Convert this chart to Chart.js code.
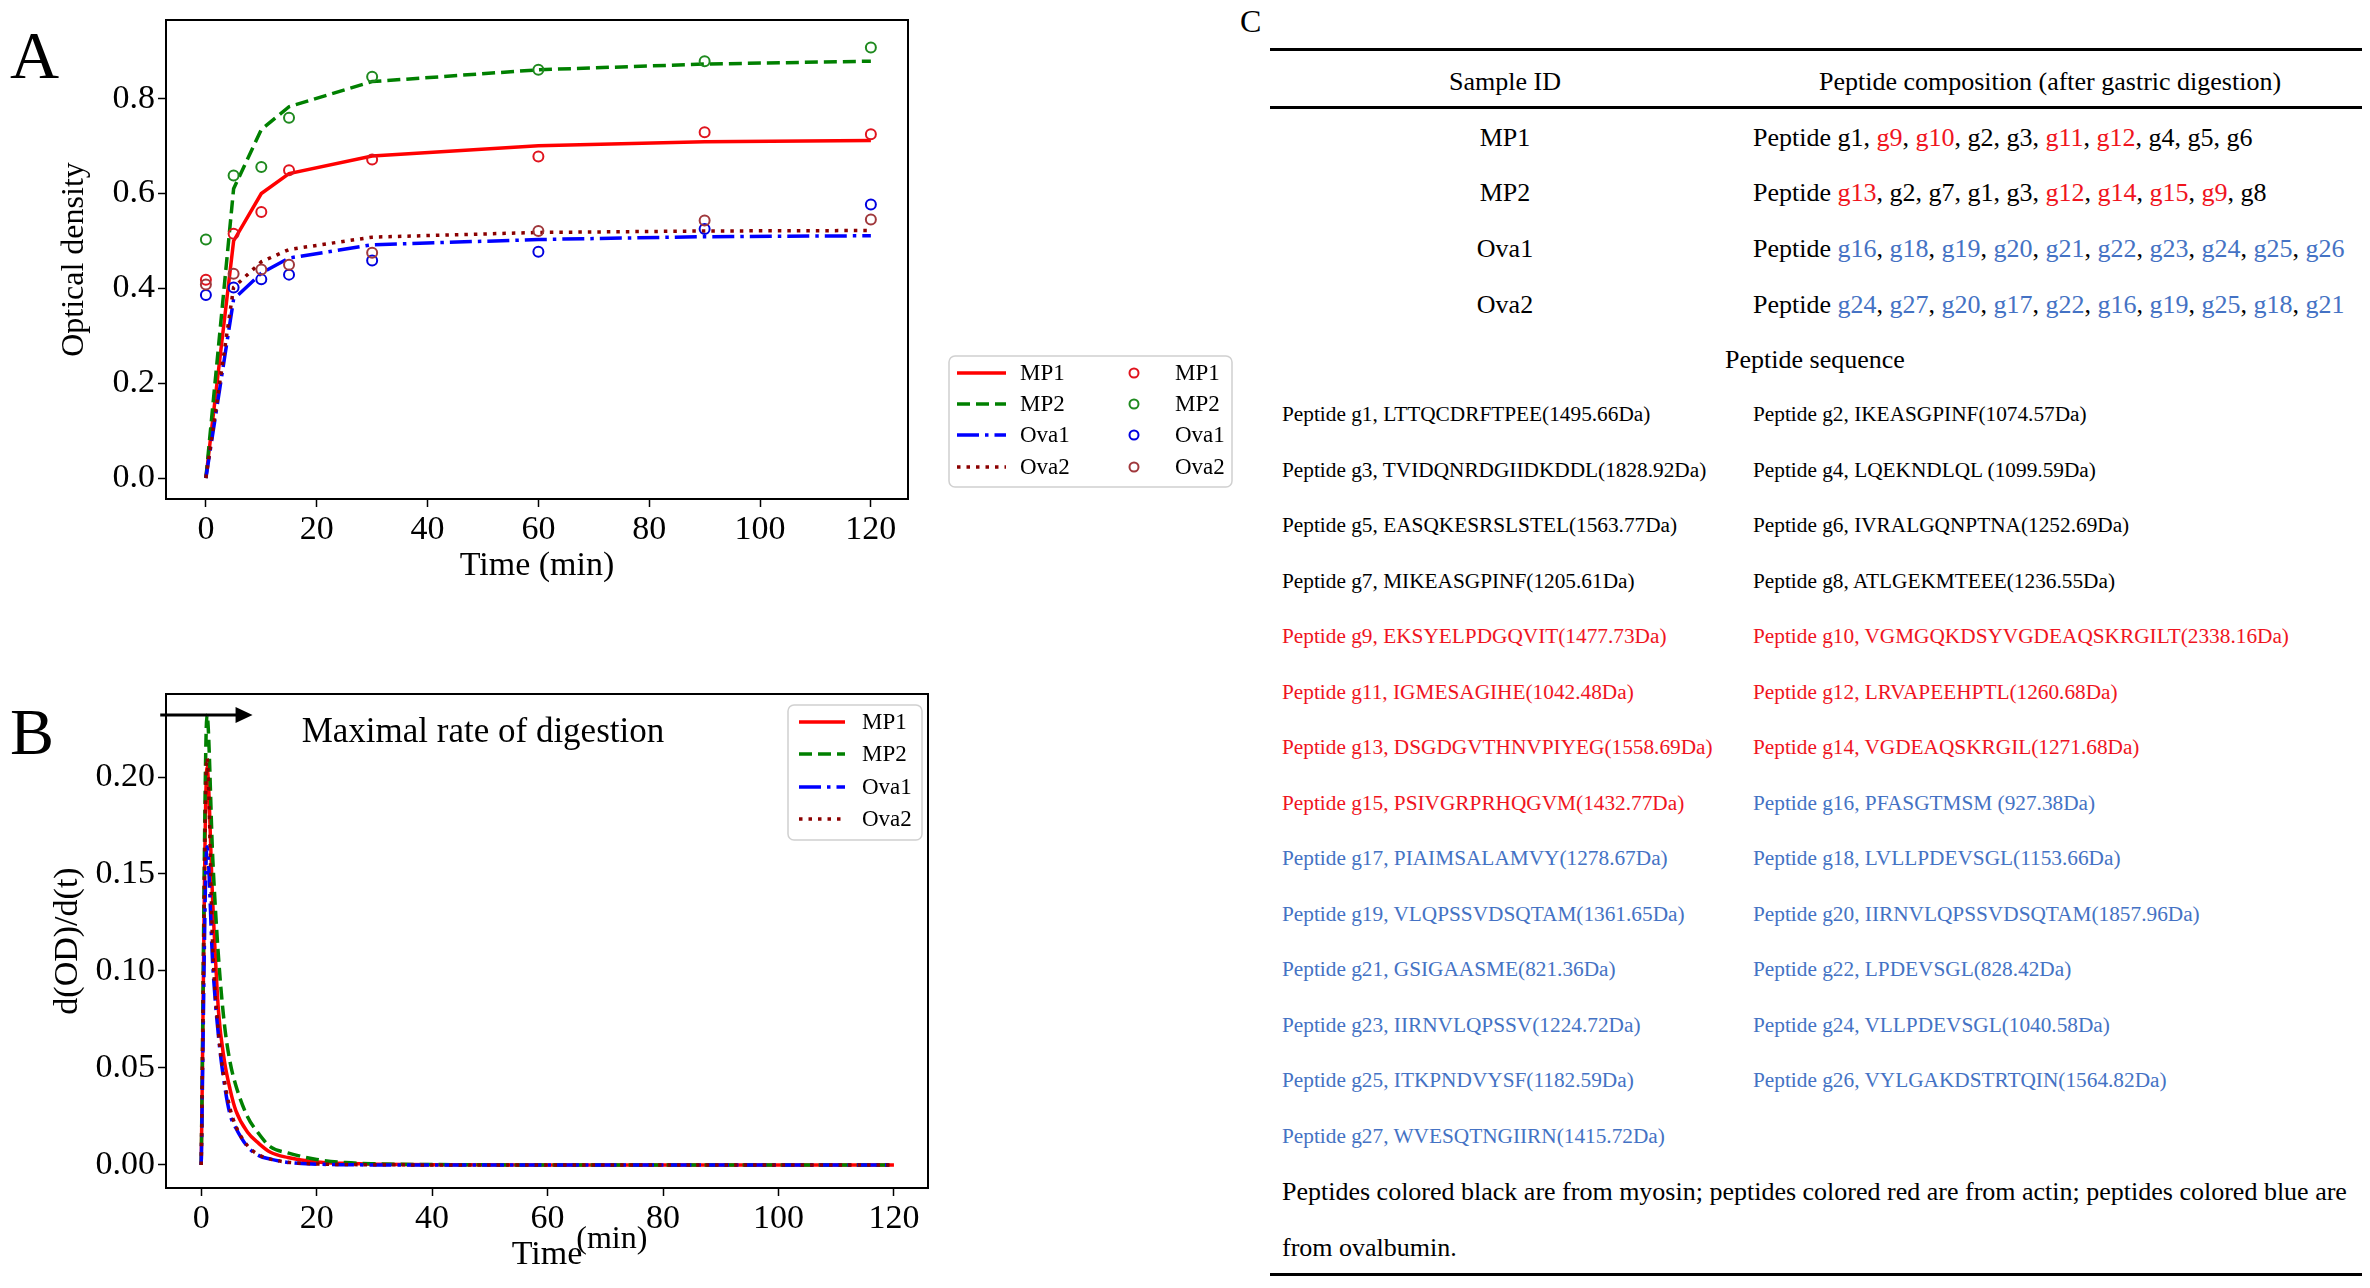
<!DOCTYPE html>
<html>
<head>
<meta charset="utf-8">
<script src="https://cdn.jsdelivr.net/npm/chart.js@4.4.1/dist/chart.umd.min.js"></script>
<style>
  html, body { margin: 0; padding: 0; background: #fff; }
  body { width: 2370px; height: 1288px; position: relative; overflow: hidden; font-family: "Liberation Serif", serif; color: #000; }
  canvas { position: absolute; left: 0; }
  #chartA { top: 0; }
  #chartB { top: 650px; }
  .t { position: absolute; white-space: nowrap; }
  .rule { position: absolute; left: 1270px; width: 1092px; height: 3px; background: #000; }
</style>
</head>
<body>
<canvas id="chartA" width="1240" height="600"></canvas>
<canvas id="chartB" width="1240" height="638"></canvas>
<div id="table"></div>

<script>
"use strict";

// ---- panel A: optical density vs time ----
var TIME_A = [0, 5, 10, 15, 30, 60, 90, 120];
var FIT_MP1 = [0, 0.500, 0.600, 0.642, 0.679, 0.701, 0.709, 0.712];
var FIT_MP2 = [0, 0.610, 0.735, 0.783, 0.836, 0.861, 0.873, 0.879];
var FIT_OVA1 = [0, 0.377, 0.432, 0.464, 0.492, 0.503, 0.509, 0.511];
var FIT_OVA2 = [0, 0.402, 0.456, 0.482, 0.508, 0.518, 0.521, 0.522];
var OBS_MP1 = [0.418, 0.515, 0.561, 0.649, 0.672, 0.678, 0.729, 0.725];
var OBS_MP2 = [0.503, 0.638, 0.656, 0.760, 0.846, 0.861, 0.879, 0.908];
var OBS_OVA1 = [0.386, 0.402, 0.419, 0.429, 0.459, 0.477, 0.525, 0.577];
var OBS_OVA2 = [0.408, 0.431, 0.440, 0.450, 0.475, 0.521, 0.543, 0.545];
var TICKS_X = [0, 20, 40, 60, 80, 100, 120];
var TICKS_Y_A = [0, 0.2, 0.4, 0.6, 0.8];

// ---- panel B: rate of digestion ----
var TIME_B = [0, 1, 2, 3, 4, 5, 6, 8, 10, 12, 15, 20, 25, 30, 40, 60, 80, 100, 120];
var RATE_MP1 = [0, 0.205, 0.135, 0.079, 0.054, 0.039, 0.028, 0.017, 0.011, 0.0065, 0.0038, 0.0015, 0.0008, 0.0004, 0.0001, 0, 0, 0, 0];
var RATE_MP2 = [0, 0.232, 0.158, 0.107, 0.073, 0.053, 0.041, 0.025, 0.016, 0.0093, 0.0062, 0.0028, 0.0012, 0.0006, 0.0002, 0, 0, 0, 0];
var RATE_OVA1 = [0, 0.164, 0.103, 0.066, 0.042, 0.026, 0.019, 0.0095, 0.0048, 0.003, 0.0013, 0.0004, 0.0001, 0, 0, 0, 0, 0, 0];
var RATE_OVA2 = [0, 0.210, 0.112, 0.068, 0.044, 0.029, 0.020, 0.010, 0.0052, 0.003, 0.0014, 0.0005, 0.0002, 0.0001, 0, 0, 0, 0, 0];
var TICKS_Y_B = [0, 0.05, 0.10, 0.15, 0.20];
var ARROW_FROM = { x: -7.1, y: 0.232 };
var ARROW_TO = { x: 8.9, y: 0.232 };
var NOTE_POS = { x: 17.4, y: 0.218 };

var SAMPLES = ['MP1', 'MP2', 'Ova1', 'Ova2'];
var COLORS = { MP1: 'red', MP2: '#008000', Ova1: '#0000ff', Ova2: '#8b0000' };
var MARKER_COLORS = { MP1: '#e0141e', MP2: '#1f8a1f', Ova1: '#0000e0', Ova2: '#a0383c' };
var DASHES = { MP1: [], MP2: [13, 6], Ova1: [22, 6, 3.5, 6], Ova2: [3.5, 6] };

Chart.defaults.font.family = '"Liberation Serif", serif';
Chart.defaults.color = '#000';

function pairs(xs, ys) {
    return xs.map(function (x, i) { return { x: x, y: ys[i] }; });
}

// box round the plot area, like a matplotlib axes frame
var framePlugin = {
    id: 'frame',
    afterDatasetsDraw: function (chart) {
        var a = chart.chartArea, ctx = chart.ctx;
        ctx.save();
        ctx.strokeStyle = '#000';
        ctx.lineWidth = 2;
        ctx.strokeRect(a.left, a.top, a.right - a.left, a.bottom - a.top);
        ctx.restore();
    }
};

function roundRect(ctx, x, y, w, h, r) {
    ctx.beginPath();
    ctx.moveTo(x + r, y);
    ctx.arcTo(x + w, y, x + w, y + h, r);
    ctx.arcTo(x + w, y + h, x, y + h, r);
    ctx.arcTo(x, y + h, x, y, r);
    ctx.arcTo(x, y, x + w, y, r);
    ctx.closePath();
}

// legend drawn from the datasets' own styles
function drawLegend(chart, box, rows) {
    var ctx = chart.ctx;
    ctx.save();
    roundRect(ctx, box.x, box.y, box.w, box.h, 6);
    ctx.fillStyle = '#fff';
    ctx.fill();
    ctx.strokeStyle = '#d0d0d0';
    ctx.lineWidth = 1.5;
    ctx.stroke();
    ctx.font = box.font;
    ctx.textBaseline = 'middle';
    ctx.textAlign = 'left';
    rows.forEach(function (r) {
        var ds = chart.data.datasets[r.index];
        if (r.kind === 'line') {
            ctx.strokeStyle = ds.borderColor;
            ctx.lineWidth = ds.borderWidth;
            ctx.setLineDash(ds.borderDash || []);
            ctx.beginPath();
            ctx.moveTo(r.x0, r.y);
            ctx.lineTo(r.x1, r.y);
            ctx.stroke();
            ctx.setLineDash([]);
        } else {
            ctx.strokeStyle = ds.pointBorderColor;
            ctx.lineWidth = ds.pointBorderWidth;
            ctx.beginPath();
            ctx.arc(r.x0, r.y, ds.pointRadius - 0.5, 0, Math.PI * 2);
            ctx.stroke();
        }
        ctx.fillStyle = '#000';
        ctx.fillText(ds.label, r.tx, r.y + 1);
    });
    ctx.restore();
}

var legendA = {
    id: 'legendA',
    afterDraw: function (chart) {
        var rowsY = [373, 404, 435, 467];
        var rows = [];
        rowsY.forEach(function (y, i) {
            rows.push({ index: i, kind: 'line', x0: 957, x1: 1006, tx: 1020, y: y });
            rows.push({ index: 4 + i, kind: 'point', x0: 1134, tx: 1175, y: y });
        });
        drawLegend(chart, { x: 949, y: 356, w: 283, h: 131, font: '23px "Liberation Serif"' }, rows);
    }
};

var legendB = {
    id: 'legendB',
    afterDraw: function (chart) {
        var rowsY = [72, 104, 137, 169];
        var rows = rowsY.map(function (y, i) {
            return { index: i, kind: 'line', x0: 799, x1: 845, tx: 862, y: y };
        });
        drawLegend(chart, { x: 788, y: 55, w: 134, h: 135, font: '23px "Liberation Serif"' }, rows);
    }
};

// arrow + note, and the raised "(min)" after the x title
var notesB = {
    id: 'notesB',
    afterDraw: function (chart) {
        var ctx = chart.ctx, xs = chart.scales.x, ys = chart.scales.y;
        var x0 = xs.getPixelForValue(ARROW_FROM.x), y0 = ys.getPixelForValue(ARROW_FROM.y);
        var x1 = xs.getPixelForValue(ARROW_TO.x), y1 = ys.getPixelForValue(ARROW_TO.y);
        ctx.save();
        ctx.strokeStyle = '#000';
        ctx.fillStyle = '#000';
        ctx.lineWidth = 3;
        ctx.beginPath();
        ctx.moveTo(x0, y0);
        ctx.lineTo(x1 - 12, y1);
        ctx.stroke();
        ctx.beginPath();
        ctx.moveTo(x1, y1);
        ctx.lineTo(x1 - 17, y1 - 8);
        ctx.lineTo(x1 - 17, y1 + 8);
        ctx.closePath();
        ctx.fill();

        ctx.font = '35px "Liberation Serif"';
        ctx.textAlign = 'left';
        ctx.textBaseline = 'alphabetic';
        ctx.fillText('Maximal rate of digestion', xs.getPixelForValue(NOTE_POS.x), ys.getPixelForValue(NOTE_POS.y));

        var a = chart.chartArea;
        var cx = (a.left + a.right) / 2;
        ctx.font = '34px "Liberation Serif"';
        var w = ctx.measureText('Time').width;
        ctx.font = '32px "Liberation Serif"';
        ctx.textBaseline = 'middle';
        ctx.fillText('(min)', cx + w / 2 - 6, xs.bottom - 48);
        ctx.restore();
    }
};

function axisX(min, max, title, titlePad, height) {
    return {
        type: 'linear', min: min, max: max,
        afterBuildTicks: function (s) { s.ticks = TICKS_X.map(function (v) { return { value: v }; }); },
        afterFit: function (s) { s.height = height; },
        ticks: { font: { size: 34 }, color: '#000', padding: 3, maxRotation: 0 },
        grid: { drawOnChartArea: false, drawTicks: true, tickLength: 8, tickColor: '#000', tickWidth: 1.5 },
        border: { display: false },
        title: { display: true, text: title, font: { size: 34 }, padding: { top: 0, bottom: titlePad } }
    };
}

function axisY(min, max, ticks, digits, title, titleSize, titlePad) {
    return {
        type: 'linear', min: min, max: max,
        afterBuildTicks: function (s) { s.ticks = ticks.map(function (v) { return { value: v }; }); },
        afterFit: function (s) { s.width = 166; },
        ticks: { font: { size: 34, lineHeight: 1 }, color: '#000', padding: 3, callback: function (v) { return v.toFixed(digits); } },
        grid: { drawOnChartArea: false, drawTicks: true, tickLength: 8, tickColor: '#000', tickWidth: 1.5 },
        border: { display: false },
        title: { display: true, text: title, font: { size: titleSize }, padding: { top: titlePad, bottom: 0 } }
    };
}

var fitsA = [FIT_MP1, FIT_MP2, FIT_OVA1, FIT_OVA2];
var obsA = [OBS_MP1, OBS_MP2, OBS_OVA1, OBS_OVA2];
var datasetsA = [];
SAMPLES.forEach(function (s, i) {
    datasetsA.push({
        label: s, data: pairs(TIME_A, fitsA[i]),
        borderColor: COLORS[s], borderWidth: 3.5, borderDash: DASHES[s],
        pointRadius: 0, tension: 0, fill: false, order: 10 - i
    });
});
SAMPLES.forEach(function (s, i) {
    datasetsA.push({
        label: s, data: pairs(TIME_A, obsA[i]), showLine: false,
        borderColor: MARKER_COLORS[s], pointBorderColor: MARKER_COLORS[s],
        pointBackgroundColor: 'rgba(0,0,0,0)', pointRadius: 5, pointBorderWidth: 2,
        order: 4 - i
    });
});

new Chart(document.getElementById('chartA'), {
    type: 'line',
    data: { datasets: datasetsA },
    options: {
        responsive: false, animation: false, devicePixelRatio: 1,
        layout: { padding: { top: 18, right: 332, left: 0, bottom: 0 } },
        plugins: { legend: { display: false }, tooltip: { enabled: false } },
        scales: {
            x: axisX(-7.2, 126.7, 'Time (min)', 14, 101),
            y: axisY(-0.0441, 0.9659, TICKS_Y_A, 1, 'Optical density', 32, 55)
        }
    },
    plugins: [framePlugin, legendA]
});

var ratesB = [RATE_MP1, RATE_MP2, RATE_OVA1, RATE_OVA2];
var datasetsB = SAMPLES.map(function (s, i) {
    return {
        label: s, data: pairs(TIME_B, ratesB[i]),
        borderColor: COLORS[s], borderWidth: 3.5, borderDash: DASHES[s],
        pointRadius: 0, cubicInterpolationMode: 'monotone', fill: false, order: 4 - i
    };
});

new Chart(document.getElementById('chartB'), {
    type: 'line',
    data: { datasets: datasetsB },
    options: {
        responsive: false, animation: false, devicePixelRatio: 1,
        layout: { padding: { top: 44, right: 312, left: 0, bottom: 0 } },
        plugins: { legend: { display: false }, tooltip: { enabled: false } },
        scales: {
            x: axisX(-6.1, 125.9, 'Time', 13, 100),
            y: axisY(-0.0119, 0.2428, TICKS_Y_B, 2, 'd(OD)/d(t)', 34, 48)
        }
    },
    plugins: [framePlugin, legendB, notesB]
});

// ---- panel C: peptide table ----
var COMPOSITION = [
    ['g1', 'g9', 'g10', 'g2', 'g3', 'g11', 'g12', 'g4', 'g5', 'g6'],
    ['g13', 'g2', 'g7', 'g1', 'g3', 'g12', 'g14', 'g15', 'g9', 'g8'],
    ['g16', 'g18', 'g19', 'g20', 'g21', 'g22', 'g23', 'g24', 'g25', 'g26'],
    ['g24', 'g27', 'g20', 'g17', 'g22', 'g16', 'g19', 'g25', 'g18', 'g21']
];
var PEPTIDES = [
    'LTTQCDRFTPEE(1495.66Da)', 'IKEASGPINF(1074.57Da)', 'TVIDQNRDGIIDKDDL(1828.92Da)',
    'LQEKNDLQL (1099.59Da)', 'EASQKESRSLSTEL(1563.77Da)', 'IVRALGQNPTNA(1252.69Da)',
    'MIKEASGPINF(1205.61Da)', 'ATLGEKMTEEE(1236.55Da)', 'EKSYELPDGQVIT(1477.73Da)',
    'VGMGQKDSYVGDEAQSKRGILT(2338.16Da)', 'IGMESAGIHE(1042.48Da)', 'LRVAPEEHPTL(1260.68Da)',
    'DSGDGVTHNVPIYEG(1558.69Da)', 'VGDEAQSKRGIL(1271.68Da)', 'PSIVGRPRHQGVM(1432.77Da)',
    'PFASGTMSM (927.38Da)', 'PIAIMSALAMVY(1278.67Da)', 'LVLLPDEVSGL(1153.66Da)',
    'VLQPSSVDSQTAM(1361.65Da)', 'IIRNVLQPSSVDSQTAM(1857.96Da)', 'GSIGAASME(821.36Da)',
    'LPDEVSGL(828.42Da)', 'IIRNVLQPSSV(1224.72Da)', 'VLLPDEVSGL(1040.58Da)',
    'ITKPNDVYSF(1182.59Da)', 'VYLGAKDSTRTQIN(1564.82Da)', 'WVESQTNGIIRN(1415.72Da)'
];
var SOURCE_COLORS = { myosin: '#000', actin: '#f0141e', ovalbumin: '#4472c4' };

function sourceOf(n) {
    if (n <= 8) return 'myosin';
    if (n <= 15) return 'actin';
    return 'ovalbumin';
}

var table = document.getElementById('table');

function place(html, x, cy, size, align, color) {
    var d = document.createElement('div');
    d.className = 't';
    d.style.fontSize = size + 'px';
    d.style.lineHeight = (size * 1.2) + 'px';
    d.style.top = (cy - size * 0.6) + 'px';
    d.style.left = x + 'px';
    if (align === 'center') d.style.transform = 'translateX(-50%)';
    if (color) d.style.color = color;
    d.innerHTML = html;
    table.appendChild(d);
}

function rule(y) {
    var r = document.createElement('div');
    r.className = 'rule';
    r.style.top = y + 'px';
    table.appendChild(r);
}

place('A', 10, 56, 68);
place('B', 10, 732, 66);
place('C', 1240, 21, 32);

rule(48);
rule(106);
rule(1273);

place('Sample ID', 1505, 82, 26, 'center');
place('Peptide composition (after gastric digestion)', 2050, 82, 26, 'center');

var rowY = [138, 193, 249, 305];
SAMPLES.forEach(function (s, i) {
    place(s, 1505, rowY[i], 26, 'center');
    var parts = COMPOSITION[i].map(function (g) {
        var c = SOURCE_COLORS[sourceOf(parseInt(g.slice(1), 10))];
        return '<span style="color:' + c + '">' + g + '</span>';
    });
    place('Peptide ' + parts.join(', '), 1753, rowY[i], 26);
});

place('Peptide sequence', 1815, 360, 26, 'center');

PEPTIDES.forEach(function (seq, k) {
    var n = k + 1;
    var row = Math.floor(k / 2);
    var x = (k % 2 === 0) ? 1282 : 1753;
    place('Peptide g' + n + ', ' + seq, x, 415 + row * 55.5, 21.3, 'left', SOURCE_COLORS[sourceOf(n)]);
});

place('Peptides colored black are from myosin; peptides colored red are from actin; peptides colored blue are', 1282, 1192, 26);
place('from ovalbumin.', 1282, 1248, 26);
</script>
</body>
</html>
